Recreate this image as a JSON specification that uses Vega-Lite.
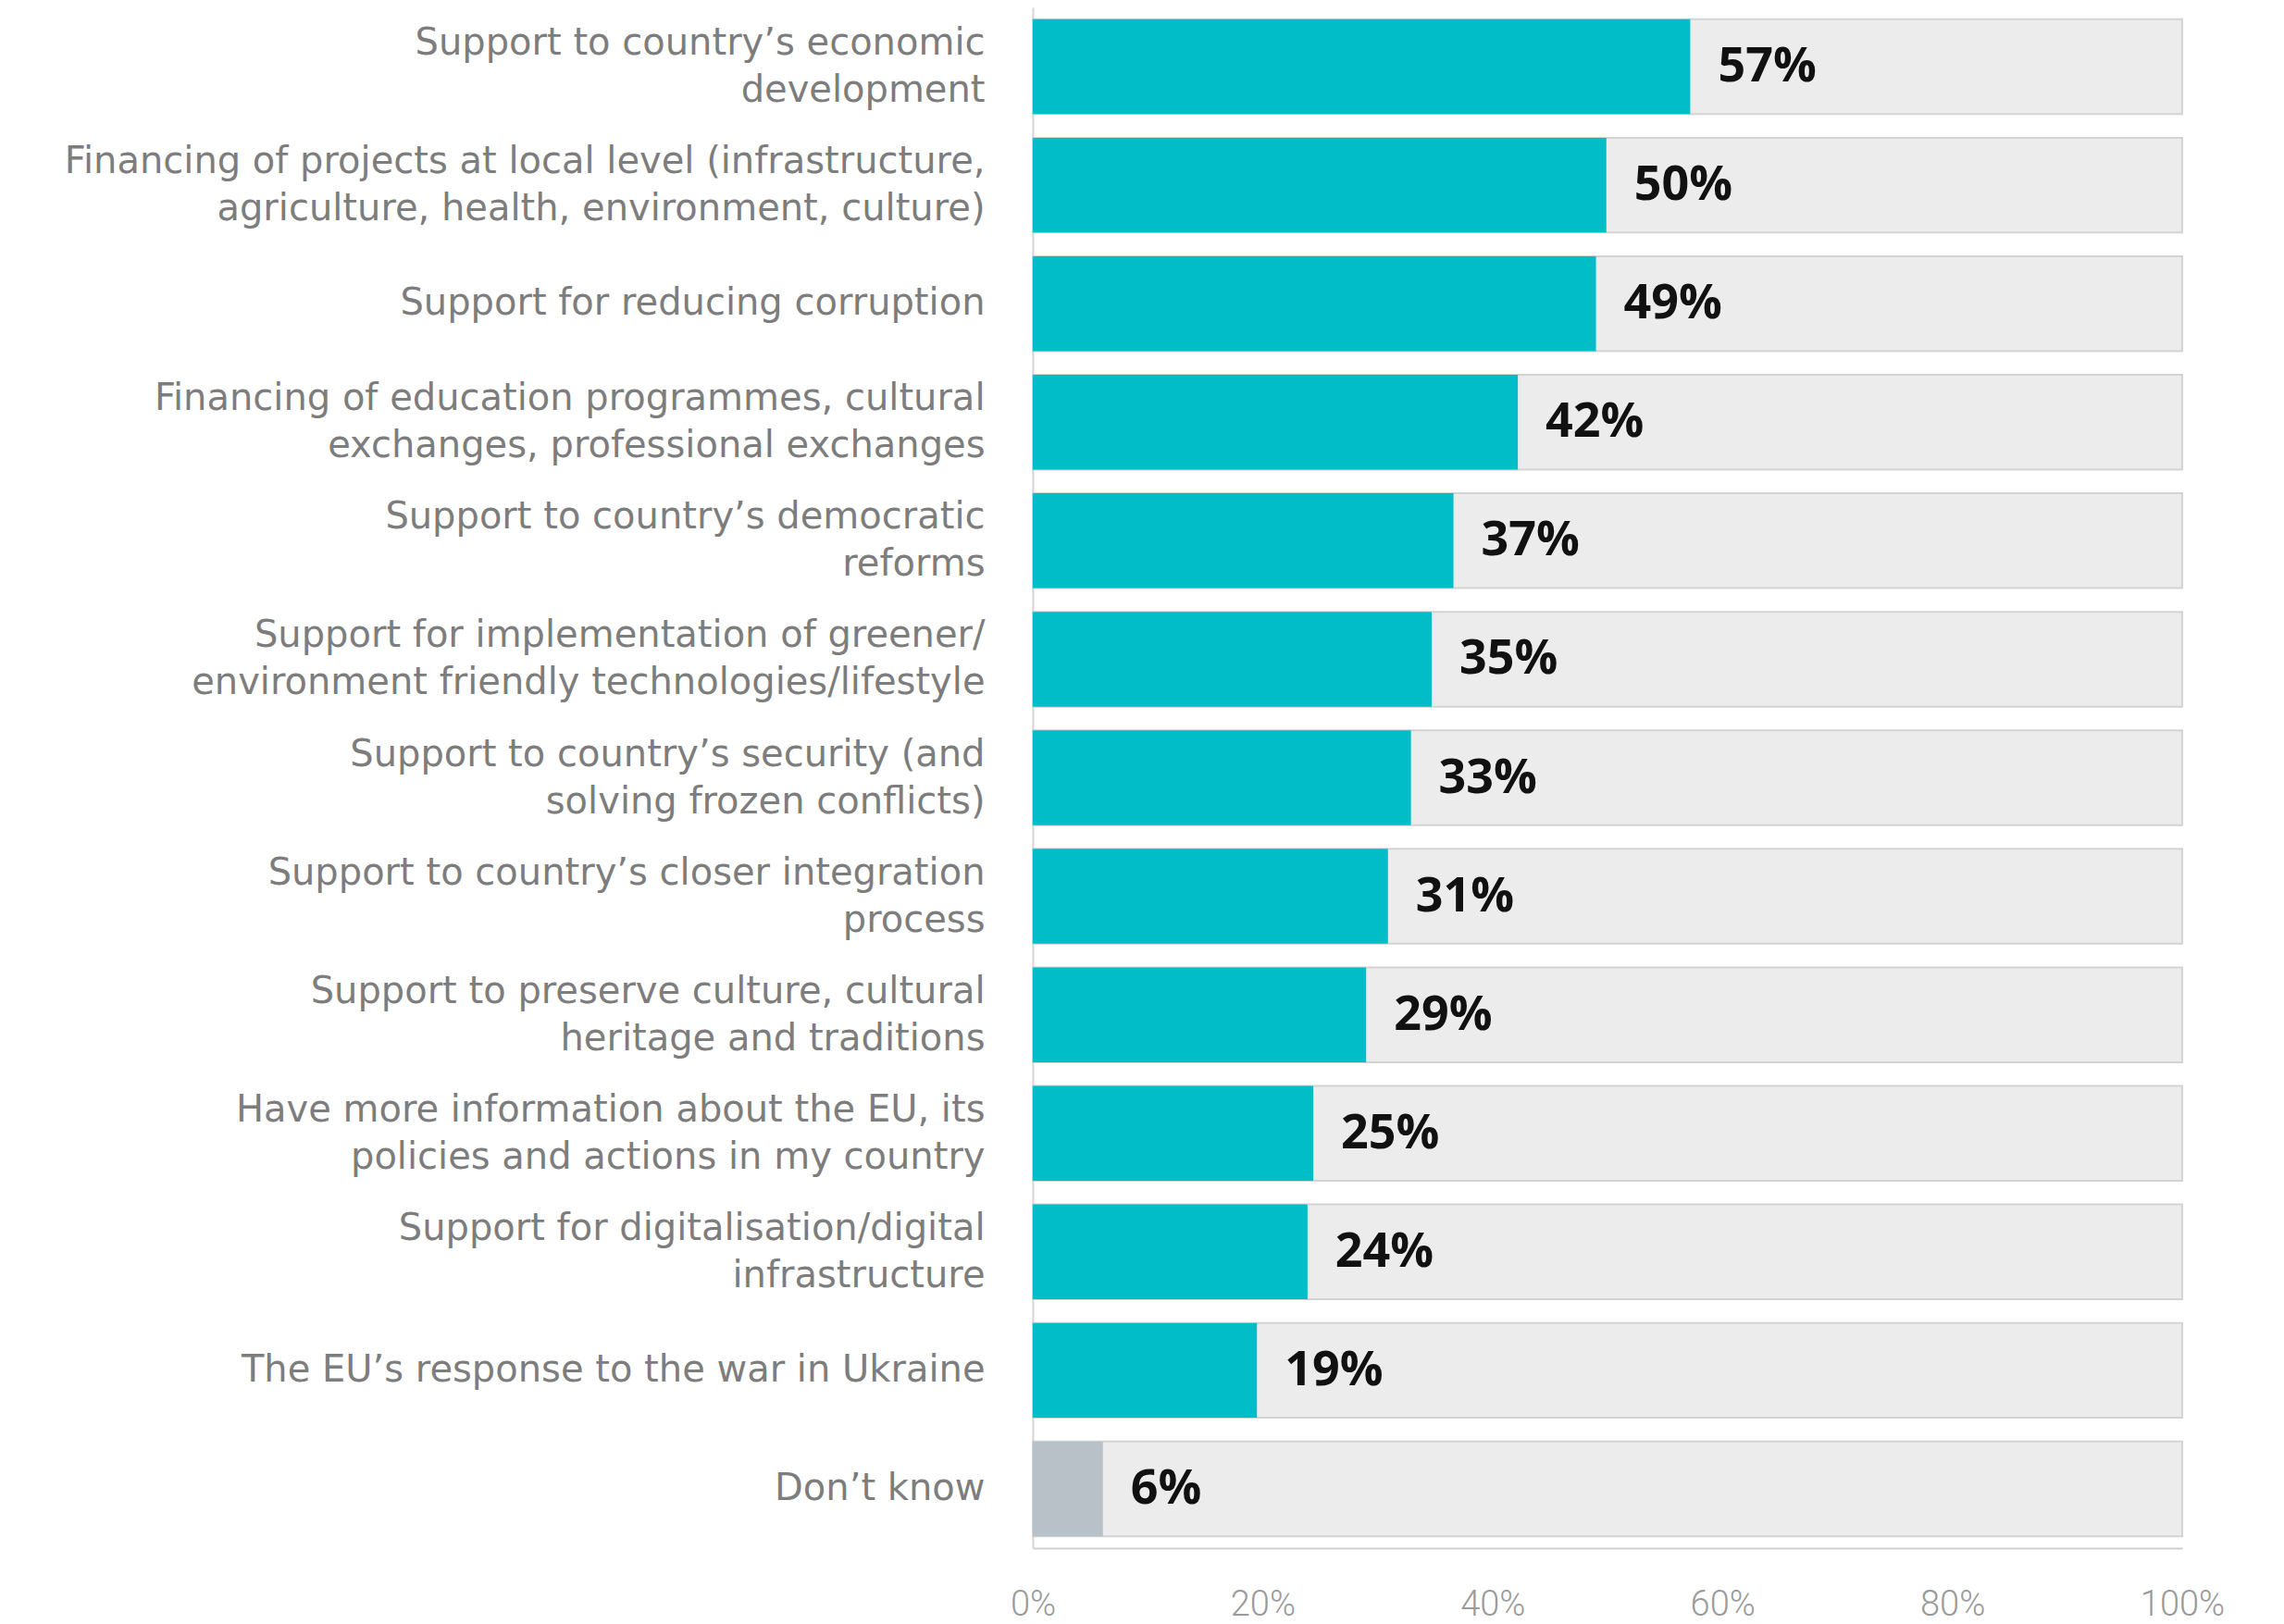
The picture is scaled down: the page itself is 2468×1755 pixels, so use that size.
{
  "$schema": "https://vega.github.io/schema/vega-lite/v6.json",
  "autosize": {"type": "none"},
  "width": 1242,
  "height": 1665,
  "padding": {"left": 1116, "top": 8, "right": 110, "bottom": 82},
  "background": "white",
  "config": {"view": {"stroke": null}},
  "data": {"values": [
    {"item": "Support to country’s economic|development", "value": 57.2, "label": "57%", "group": "main"},
    {"item": "Financing of projects at local level (infrastructure,|agriculture, health, environment, culture)", "value": 49.9, "label": "50%", "group": "main"},
    {"item": "Support for reducing corruption", "value": 49.0, "label": "49%", "group": "main"},
    {"item": "Financing of education programmes, cultural|exchanges, professional exchanges", "value": 42.2, "label": "42%", "group": "main"},
    {"item": "Support to country’s democratic|reforms", "value": 36.6, "label": "37%", "group": "main"},
    {"item": "Support for implementation of greener/|environment friendly technologies/lifestyle", "value": 34.7, "label": "35%", "group": "main"},
    {"item": "Support to country’s security (and|solving frozen conflicts)", "value": 32.9, "label": "33%", "group": "main"},
    {"item": "Support to country’s closer integration|process", "value": 30.9, "label": "31%", "group": "main"},
    {"item": "Support to preserve culture, cultural|heritage and traditions", "value": 29.0, "label": "29%", "group": "main"},
    {"item": "Have more information about the EU, its|policies and actions in my country", "value": 24.4, "label": "25%", "group": "main"},
    {"item": "Support for digitalisation/digital|infrastructure", "value": 23.9, "label": "24%", "group": "main"},
    {"item": "The EU’s response to the war in Ukraine", "value": 19.5, "label": "19%", "group": "main"},
    {"item": "Don’t know", "value": 6.1, "label": "6%", "group": "dk"}
  ]},
  "encoding": {
    "y": {
      "field": "item", "type": "nominal", "sort": null,
      "scale": {"paddingInner": 0.2, "paddingOuter": 0.1},
      "axis": {
        "title": null,
        "labelExpr": "split(datum.label, '|')",
        "labelFont": "DejaVu Sans",
        "labelFontSize": 40,
        "labelColor": "#7d7d7d",
        "labelLineHeight": 51,
        "labelPadding": 52,
        "labelLimit": 1110,
        "labelOffset": {"condition": {"test": "indexof(datum.value, '|') >= 0", "value": -25}, "value": 0},
        "ticks": false,
        "domain": true,
        "domainColor": "#d6d6d6",
        "domainWidth": 2
      }
    }
  },
  "layer": [
    {
      "mark": {"type": "bar", "fill": "#ececec", "stroke": "#d3d3d3", "strokeWidth": 2},
      "encoding": {
        "x": {"datum": 100, "type": "quantitative", "scale": {"domain": [0, 100], "nice": false},
          "axis": {
            "title": null,
            "values": [0, 20, 40, 60, 80, 100],
            "labelExpr": "datum.value + '%'",
            "labelFont": "Roboto",
            "labelFontWeight": 300,
            "labelFontSize": 38,
            "labelColor": "#9a9a9a",
            "labelPadding": 42,
            "labelFlush": false,
            "ticks": false,
            "grid": false,
            "domain": true,
            "domainColor": "#d0d0d0",
            "domainWidth": 2
          }
        }
      }
    },
    {
      "mark": {"type": "bar"},
      "encoding": {
        "x": {"field": "value", "type": "quantitative"},
        "color": {"field": "group", "type": "nominal", "legend": null,
          "scale": {"domain": ["main", "dk"], "range": ["#00bdc8", "#b9c1c8"]}}
      }
    },
    {
      "mark": {"type": "text", "align": "left", "baseline": "middle", "dx": 30, "font": "Open Sans", "fontWeight": "bold", "fontSize": 52, "color": "#111111"},
      "encoding": {
        "x": {"field": "value", "type": "quantitative"},
        "text": {"field": "label"}
      }
    }
  ]
}
